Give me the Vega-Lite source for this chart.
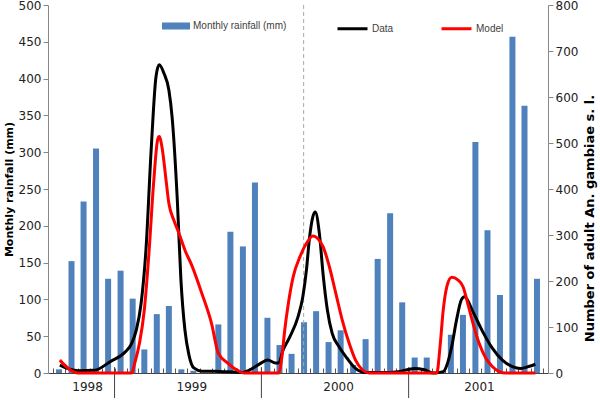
{
  "$schema": "https://vega.github.io/schema/vega-lite/v6.json",
  "width": 500,
  "height": 368,
  "autosize": {"type": "none"},
  "padding": {"left": 48, "top": 5, "right": 52, "bottom": 27},
  "background": "white",
  "config": {
    "view": {"stroke": null},
    "font": "DejaVu Sans",
    "axis": {"grid": false}
  },
  "datasets": {
    "rain": [
      {"date": "1998-08-16", "rainfall": 5},
      {"date": "1998-09-16", "rainfall": 152},
      {"date": "1998-10-16", "rainfall": 233},
      {"date": "1998-11-16", "rainfall": 305},
      {"date": "1998-12-16", "rainfall": 128},
      {"date": "1999-01-16", "rainfall": 139},
      {"date": "1999-02-15", "rainfall": 101},
      {"date": "1999-03-16", "rainfall": 32},
      {"date": "1999-04-16", "rainfall": 80},
      {"date": "1999-05-16", "rainfall": 91},
      {"date": "1999-06-16", "rainfall": 5},
      {"date": "1999-07-16", "rainfall": 3},
      {"date": "1999-08-16", "rainfall": 0},
      {"date": "1999-09-16", "rainfall": 66},
      {"date": "1999-10-16", "rainfall": 192},
      {"date": "1999-11-16", "rainfall": 172},
      {"date": "1999-12-16", "rainfall": 259},
      {"date": "2000-01-16", "rainfall": 75},
      {"date": "2000-02-15", "rainfall": 38},
      {"date": "2000-03-16", "rainfall": 26},
      {"date": "2000-04-16", "rainfall": 69},
      {"date": "2000-05-16", "rainfall": 84},
      {"date": "2000-06-16", "rainfall": 42},
      {"date": "2000-07-16", "rainfall": 58},
      {"date": "2000-08-16", "rainfall": 11},
      {"date": "2000-09-16", "rainfall": 46},
      {"date": "2000-10-16", "rainfall": 155},
      {"date": "2000-11-16", "rainfall": 217},
      {"date": "2000-12-16", "rainfall": 96},
      {"date": "2001-01-16", "rainfall": 21},
      {"date": "2001-02-15", "rainfall": 21},
      {"date": "2001-03-16", "rainfall": 0},
      {"date": "2001-04-16", "rainfall": 52},
      {"date": "2001-05-16", "rainfall": 79},
      {"date": "2001-06-16", "rainfall": 314},
      {"date": "2001-07-16", "rainfall": 194},
      {"date": "2001-08-16", "rainfall": 106},
      {"date": "2001-09-16", "rainfall": 457},
      {"date": "2001-10-16", "rainfall": 363},
      {"date": "2001-11-16", "rainfall": 128}
    ],
    "mosq": [
      {"series": "Data", "date": "1998-08-18", "count": 17},
      {"series": "Data", "date": "1998-09-12", "count": 8},
      {"series": "Data", "date": "1998-10-02", "count": 5},
      {"series": "Data", "date": "1998-11-12", "count": 6},
      {"series": "Data", "date": "1998-12-22", "count": 25},
      {"series": "Data", "date": "1999-01-28", "count": 46},
      {"series": "Data", "date": "1999-02-13", "count": 65},
      {"series": "Data", "date": "1999-02-24", "count": 93},
      {"series": "Data", "date": "1999-03-08", "count": 151},
      {"series": "Data", "date": "1999-03-20", "count": 267},
      {"series": "Data", "date": "1999-04-02", "count": 485},
      {"series": "Data", "date": "1999-04-14", "count": 644},
      {"series": "Data", "date": "1999-04-22", "count": 670},
      {"series": "Data", "date": "1999-05-04", "count": 651},
      {"series": "Data", "date": "1999-05-16", "count": 615},
      {"series": "Data", "date": "1999-05-24", "count": 557},
      {"series": "Data", "date": "1999-06-06", "count": 376},
      {"series": "Data", "date": "1999-06-15", "count": 202},
      {"series": "Data", "date": "1999-06-25", "count": 93},
      {"series": "Data", "date": "1999-07-05", "count": 39},
      {"series": "Data", "date": "1999-07-17", "count": 11},
      {"series": "Data", "date": "1999-08-06", "count": 4},
      {"series": "Data", "date": "1999-09-07", "count": 4},
      {"series": "Data", "date": "1999-11-12", "count": 1},
      {"series": "Data", "date": "1999-12-10", "count": 10},
      {"series": "Data", "date": "1999-12-30", "count": 21},
      {"series": "Data", "date": "2000-01-17", "count": 28},
      {"series": "Data", "date": "2000-02-05", "count": 22},
      {"series": "Data", "date": "2000-02-13", "count": 22},
      {"series": "Data", "date": "2000-02-24", "count": 50},
      {"series": "Data", "date": "2000-03-12", "count": 79},
      {"series": "Data", "date": "2000-04-01", "count": 122},
      {"series": "Data", "date": "2000-04-13", "count": 166},
      {"series": "Data", "date": "2000-04-22", "count": 224},
      {"series": "Data", "date": "2000-04-29", "count": 289},
      {"series": "Data", "date": "2000-05-08", "count": 340},
      {"series": "Data", "date": "2000-05-14", "count": 350},
      {"series": "Data", "date": "2000-05-24", "count": 304},
      {"series": "Data", "date": "2000-06-03", "count": 209},
      {"series": "Data", "date": "2000-06-13", "count": 137},
      {"series": "Data", "date": "2000-06-25", "count": 86},
      {"series": "Data", "date": "2000-07-12", "count": 57},
      {"series": "Data", "date": "2000-08-01", "count": 32},
      {"series": "Data", "date": "2000-08-22", "count": 10},
      {"series": "Data", "date": "2000-09-16", "count": 1},
      {"series": "Data", "date": "2000-10-30", "count": 1},
      {"series": "Data", "date": "2000-12-06", "count": 3},
      {"series": "Data", "date": "2001-01-16", "count": 10},
      {"series": "Data", "date": "2001-02-09", "count": 7},
      {"series": "Data", "date": "2001-03-04", "count": 0},
      {"series": "Data", "date": "2001-03-28", "count": 3},
      {"series": "Data", "date": "2001-04-06", "count": 17},
      {"series": "Data", "date": "2001-04-18", "count": 57},
      {"series": "Data", "date": "2001-04-30", "count": 115},
      {"series": "Data", "date": "2001-05-12", "count": 159},
      {"series": "Data", "date": "2001-05-20", "count": 166},
      {"series": "Data", "date": "2001-06-10", "count": 133},
      {"series": "Data", "date": "2001-07-04", "count": 90},
      {"series": "Data", "date": "2001-07-28", "count": 54},
      {"series": "Data", "date": "2001-08-22", "count": 28},
      {"series": "Data", "date": "2001-09-16", "count": 14},
      {"series": "Data", "date": "2001-10-06", "count": 10},
      {"series": "Data", "date": "2001-10-26", "count": 14},
      {"series": "Data", "date": "2001-11-12", "count": 19},
      {"series": "Model", "date": "1998-08-18", "count": 28},
      {"series": "Model", "date": "1998-08-30", "count": 17},
      {"series": "Model", "date": "1998-09-16", "count": 5},
      {"series": "Model", "date": "1998-10-02", "count": 0},
      {"series": "Model", "date": "1999-02-13", "count": 0},
      {"series": "Model", "date": "1999-02-20", "count": 21},
      {"series": "Model", "date": "1999-03-04", "count": 65},
      {"series": "Model", "date": "1999-03-16", "count": 137},
      {"series": "Model", "date": "1999-03-28", "count": 267},
      {"series": "Model", "date": "1999-04-08", "count": 412},
      {"series": "Model", "date": "1999-04-18", "count": 507},
      {"series": "Model", "date": "1999-04-22", "count": 514},
      {"series": "Model", "date": "1999-04-30", "count": 485},
      {"series": "Model", "date": "1999-05-08", "count": 427},
      {"series": "Model", "date": "1999-05-16", "count": 369},
      {"series": "Model", "date": "1999-05-28", "count": 333},
      {"series": "Model", "date": "1999-06-10", "count": 304},
      {"series": "Model", "date": "1999-06-25", "count": 267},
      {"series": "Model", "date": "1999-07-12", "count": 234},
      {"series": "Model", "date": "1999-08-06", "count": 173},
      {"series": "Model", "date": "1999-08-30", "count": 108},
      {"series": "Model", "date": "1999-09-16", "count": 43},
      {"series": "Model", "date": "1999-10-10", "count": 21},
      {"series": "Model", "date": "1999-11-04", "count": 5},
      {"series": "Model", "date": "1999-11-19", "count": 0},
      {"series": "Model", "date": "2000-02-13", "count": 0},
      {"series": "Model", "date": "2000-02-21", "count": 35},
      {"series": "Model", "date": "2000-02-28", "count": 93},
      {"series": "Model", "date": "2000-03-08", "count": 151},
      {"series": "Model", "date": "2000-03-20", "count": 209},
      {"series": "Model", "date": "2000-04-06", "count": 253},
      {"series": "Model", "date": "2000-04-22", "count": 282},
      {"series": "Model", "date": "2000-05-08", "count": 298},
      {"series": "Model", "date": "2000-06-02", "count": 275},
      {"series": "Model", "date": "2000-06-18", "count": 231},
      {"series": "Model", "date": "2000-07-04", "count": 173},
      {"series": "Model", "date": "2000-07-20", "count": 115},
      {"series": "Model", "date": "2000-08-06", "count": 65},
      {"series": "Model", "date": "2000-08-22", "count": 28},
      {"series": "Model", "date": "2000-09-08", "count": 7},
      {"series": "Model", "date": "2000-09-24", "count": 0},
      {"series": "Model", "date": "2001-03-12", "count": 0},
      {"series": "Model", "date": "2001-03-20", "count": 57},
      {"series": "Model", "date": "2001-03-28", "count": 137},
      {"series": "Model", "date": "2001-04-06", "count": 188},
      {"series": "Model", "date": "2001-04-18", "count": 208},
      {"series": "Model", "date": "2001-05-04", "count": 202},
      {"series": "Model", "date": "2001-05-16", "count": 188},
      {"series": "Model", "date": "2001-05-28", "count": 151},
      {"series": "Model", "date": "2001-06-10", "count": 108},
      {"series": "Model", "date": "2001-06-25", "count": 65},
      {"series": "Model", "date": "2001-07-12", "count": 32},
      {"series": "Model", "date": "2001-07-28", "count": 14},
      {"series": "Model", "date": "2001-08-14", "count": 3},
      {"series": "Model", "date": "2001-08-30", "count": 0},
      {"series": "Model", "date": "2001-11-12", "count": 0}
    ],
    "years": [
      {"year": "1998", "start": "1998-08-01", "mid": "1998-10-16"},
      {"year": "1999", "start": "1999-01-01", "mid": "1999-07-02"},
      {"year": "2000", "start": "2000-01-01", "mid": "2000-07-01"},
      {"year": "2001", "start": "2001-01-01", "mid": "2001-06-16"}
    ]
  },
  "layer": [
    {
      "layer": [
        {
          "data": {"name": "rain"},
          "mark": {"type": "bar", "size": 6},
          "encoding": {
            "x": {
              "field": "date",
              "type": "temporal",
              "scale": {
                "type": "utc",
                "domain": [
                  {"year": 1998, "month": 8, "date": 1, "utc": true},
                  {"year": 2001, "month": 12, "date": 1, "utc": true}
                ]
              },
              "axis": {
                "orient": "bottom",
                "title": null,
                "labels": false,
                "tickCount": {"interval": "month", "step": 1},
                "tickSize": -5,
                "tickColor": "#555",
                "domainColor": "#444",
                "grid": false
              }
            },
            "y": {
              "field": "rainfall",
              "type": "quantitative",
              "scale": {"domain": [0, 500]},
              "axis": {
                "orient": "left",
                "values": [0, 50, 100, 150, 200, 250, 300, 350, 400, 450, 500],
                "labelOverlap": false,
                "title": "Monthly rainfall (mm)",
                "titleFontWeight": "bold",
                "titleFontSize": 11,
                "titleColor": "#000",
                "titlePadding": 4,
                "labelFontSize": 12,
                "labelColor": "#222",
                "labelPadding": 2,
                "tickSize": 5,
                "tickColor": "#888",
                "domainColor": "#888"
              }
            },
            "fill": {
              "datum": "Monthly rainfall (mm)",
              "scale": {"range": ["#4F81BD"]},
              "legend": {
                "orient": "none",
                "legendX": 114,
                "legendY": 7,
                "direction": "horizontal",
                "title": null,
                "symbolType": "M-1,-0.25H1V0.25H-1Z",
                "symbolSize": 784,
                "symbolStrokeWidth": 0,
                "labelFont": "Liberation Sans",
                "labelFontSize": 10,
                "labelColor": "#404040",
                "labelOffset": 3
              }
            }
          }
        },
        {
          "data": {"values": [{}]},
          "mark": {"type": "rule", "strokeDash": [4, 3], "color": "#aaa", "strokeWidth": 1},
          "encoding": {
            "x": {"datum": {"year": 2000, "month": 4, "date": 15, "utc": true}, "type": "temporal"}
          }
        },
        {
          "data": {"name": "years"},
          "transform": [{"filter": "datum.year != '1998'"}],
          "mark": {"type": "rule", "color": "#444", "strokeWidth": 1},
          "encoding": {
            "x": {"field": "start", "type": "temporal"},
            "y": {
              "datum": 8,
              "axis": {
                "orient": "left",
                "values": [0, 50, 100, 150, 200, 250, 300, 350, 400, 450, 500],
                "labelOverlap": false,
                "title": "Monthly rainfall (mm)",
                "titleFontWeight": "bold",
                "titleFontSize": 11,
                "titleColor": "#000",
                "titlePadding": 4,
                "labelFontSize": 12,
                "labelColor": "#222",
                "labelPadding": 2,
                "tickSize": 5,
                "tickColor": "#888",
                "domainColor": "#888"
              }
            },
            "y2": {"datum": -34}
          }
        },
        {
          "data": {"name": "years"},
          "mark": {"type": "text", "fontSize": 12, "color": "#222", "dx": 4, "baseline": "middle"},
          "encoding": {
            "x": {"field": "mid", "type": "temporal"},
            "y": {
              "datum": -19,
              "axis": {
                "orient": "left",
                "values": [0, 50, 100, 150, 200, 250, 300, 350, 400, 450, 500],
                "labelOverlap": false,
                "title": "Monthly rainfall (mm)",
                "titleFontWeight": "bold",
                "titleFontSize": 11,
                "titleColor": "#000",
                "titlePadding": 4,
                "labelFontSize": 12,
                "labelColor": "#222",
                "labelPadding": 2,
                "tickSize": 5,
                "tickColor": "#888",
                "domainColor": "#888"
              }
            },
            "text": {"field": "year"}
          }
        }
      ]
    },
    {
      "data": {"name": "mosq"},
      "mark": {"type": "line", "interpolate": "monotone", "strokeWidth": 3},
      "encoding": {
        "x": {"field": "date", "type": "temporal"},
        "y": {
          "field": "count",
          "type": "quantitative",
          "scale": {"domain": [0, 800]},
          "axis": {
            "orient": "right",
            "values": [0, 100, 200, 300, 400, 500, 600, 700, 800],
            "labelOverlap": false,
            "title": "Number of adult An. gambiae s. l.",
            "titleAngle": 270,
            "titleBaseline": "top",
            "titleY": 213,
            "titleFontWeight": "bold",
            "titleFontSize": 13,
            "titleColor": "#000",
            "titlePadding": 6,
            "labelFontSize": 12,
            "labelColor": "#222",
            "labelPadding": 2,
            "tickSize": 5,
            "tickColor": "#888",
            "domainColor": "#888"
          }
        },
        "stroke": {
          "field": "series",
          "type": "nominal",
          "scale": {"domain": ["Data", "Model"], "range": ["#000000", "#FF0000"]},
          "legend": {
            "orient": "none",
            "legendX": 288,
            "legendY": 7,
            "direction": "horizontal",
            "title": null,
            "symbolType": "stroke",
            "symbolSize": 900,
            "symbolStrokeWidth": 3,
            "columnPadding": 41,
            "labelFont": "Liberation Sans",
            "labelFontSize": 10,
            "labelColor": "#404040",
            "labelOffset": 3
          }
        }
      }
    }
  ],
  "resolve": {"scale": {"y": "independent", "fill": "independent", "stroke": "independent"}}
}
